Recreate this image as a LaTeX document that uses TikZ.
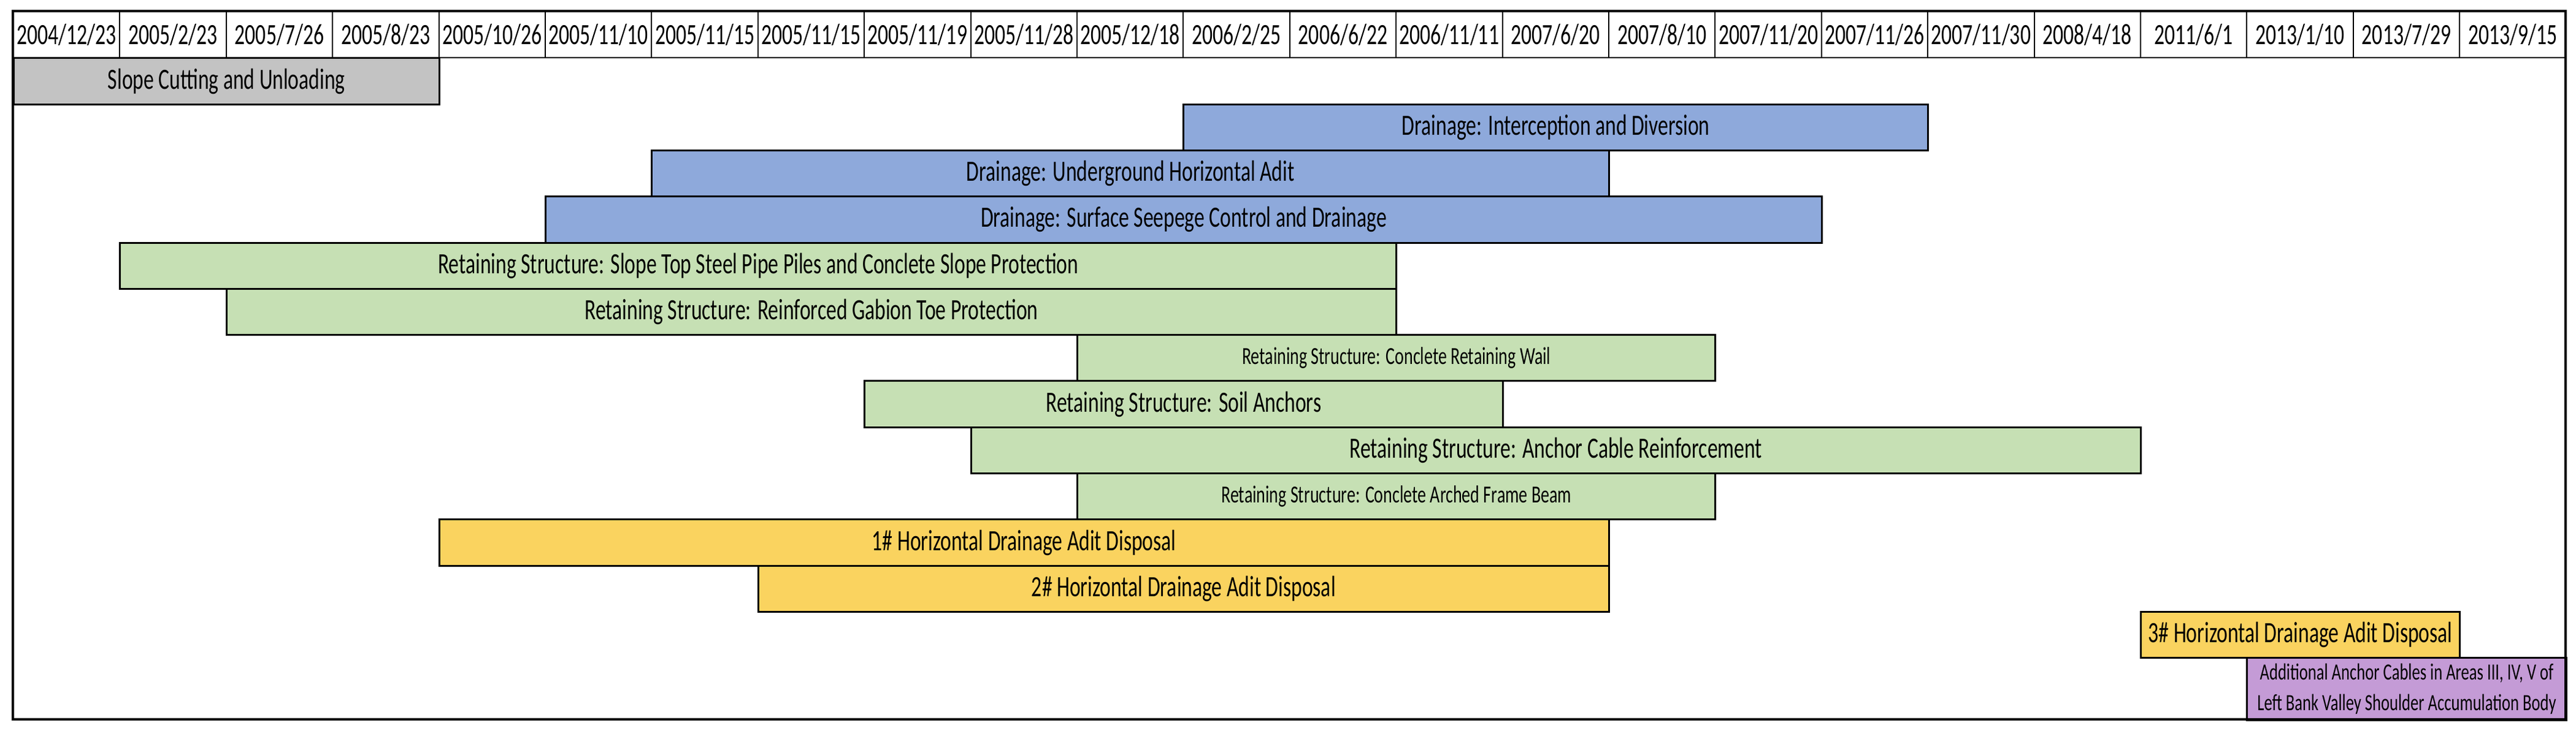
\documentclass[tikz,border=0pt]{standalone}
\usepackage{fontspec}
\setmainfont{Carlito}[FakeStretch=0.7]

\definecolor{cutgray}{HTML}{C3C3C3}
\definecolor{drainblue}{HTML}{8EA9DB}
\definecolor{retaingreen}{HTML}{C6E0B4}
\definecolor{aditgold}{HTML}{FAD35F}
\definecolor{cablepurple}{HTML}{C49BD6}

\newcommand{\colw}{43.35pt}
\newcommand{\rowh}{18.825pt}

\begin{document}
\begin{tikzpicture}[x=43.35pt, y=-18.825pt]
      \tikzset{datecell/.style={draw, line width=0.5pt, minimum width=\colw, minimum height=\rowh,
                 inner sep=0pt, anchor=north west, font=\fontsize{12}{14}\selectfont}}
      \tikzset{task/.style={draw, line width=0.75pt, minimum height=\rowh, inner sep=0pt,
                 anchor=north west, font=\fontsize{12}{14}\selectfont}}
      \tikzset{smalltask/.style={task, font=\fontsize{10}{12}\selectfont}}
      \useasboundingbox (-5.25pt,4.5pt) rectangle (1044.75pt,-293.5pt);
      % header of dates
      \foreach \d [count=\i from 0] in {2004/12/23, 2005/2/23, 2005/7/26, 2005/8/23, 2005/10/26,
            2005/11/10, 2005/11/15, 2005/11/15, 2005/11/19, 2005/11/28, 2005/12/18, 2006/2/25,
            2006/6/22, 2006/11/11, 2007/6/20, 2007/8/10, 2007/11/20, 2007/11/26, 2007/11/30,
            2008/4/18, 2011/6/1, 2013/1/10, 2013/7/29, 2013/9/15}
        \node[datecell] (date\i) at (\i,0) {\d};
      % bars
      \node[task, fill=cutgray, minimum width=4*\colw] (cutting) at (0,1) {Slope Cutting and Unloading};
      \node[task, fill=drainblue, minimum width=7*\colw] (interception) at (11,2) {Drainage: Interception and Diversion};
      \node[task, fill=drainblue, minimum width=9*\colw] (underground) at (6,3) {Drainage: Underground Horizontal Adit};
      \node[task, fill=drainblue, minimum width=12*\colw] (seepage) at (5,4) {Drainage: Surface Seepege Control and Drainage};
      \node[task, fill=retaingreen, minimum width=12*\colw] (piles) at (1,5) {Retaining Structure: Slope Top Steel Pipe Piles and Conclete Slope Protection};
      \node[task, fill=retaingreen, minimum width=11*\colw] (gabion) at (2,6) {Retaining Structure: Reinforced Gabion Toe Protection};
      \node[smalltask, fill=retaingreen, minimum width=6*\colw] (wall) at (10,7) {Retaining Structure: Conclete Retaining Wail};
      \node[task, fill=retaingreen, minimum width=6*\colw] (soil) at (8,8) {Retaining Structure: Soil Anchors};
      \node[task, fill=retaingreen, minimum width=11*\colw] (cable) at (9,9) {Retaining Structure: Anchor Cable Reinforcement};
      \node[smalltask, fill=retaingreen, minimum width=6*\colw] (beam) at (10,10) {Retaining Structure: Conclete Arched Frame Beam};
      \node[task, fill=aditgold, minimum width=11*\colw] (adit1) at (4,11) {1\# Horizontal Drainage Adit Disposal};
      \node[task, fill=aditgold, minimum width=8*\colw] (adit2) at (7,12) {2\# Horizontal Drainage Adit Disposal};
      \node[task, fill=aditgold, minimum width=3*\colw] (adit3) at (20,13) {3\# Horizontal Drainage Adit Disposal};
      \node[task, fill=cablepurple, minimum width=3*\colw, minimum height=25.5pt, align=center,
            font=\fontsize{9.5}{12.5}\selectfont] (extra) at (21,14)
            {Additional Anchor Cables in Areas III, IV, V of\\Left Bank Valley Shoulder Accumulation Body};
      % outer frame
      \coordinate (frame se) at (24,15.355);
      \draw[line width=1pt] (date0.north west) rectangle (frame se);
    \end{tikzpicture}
\end{document}
